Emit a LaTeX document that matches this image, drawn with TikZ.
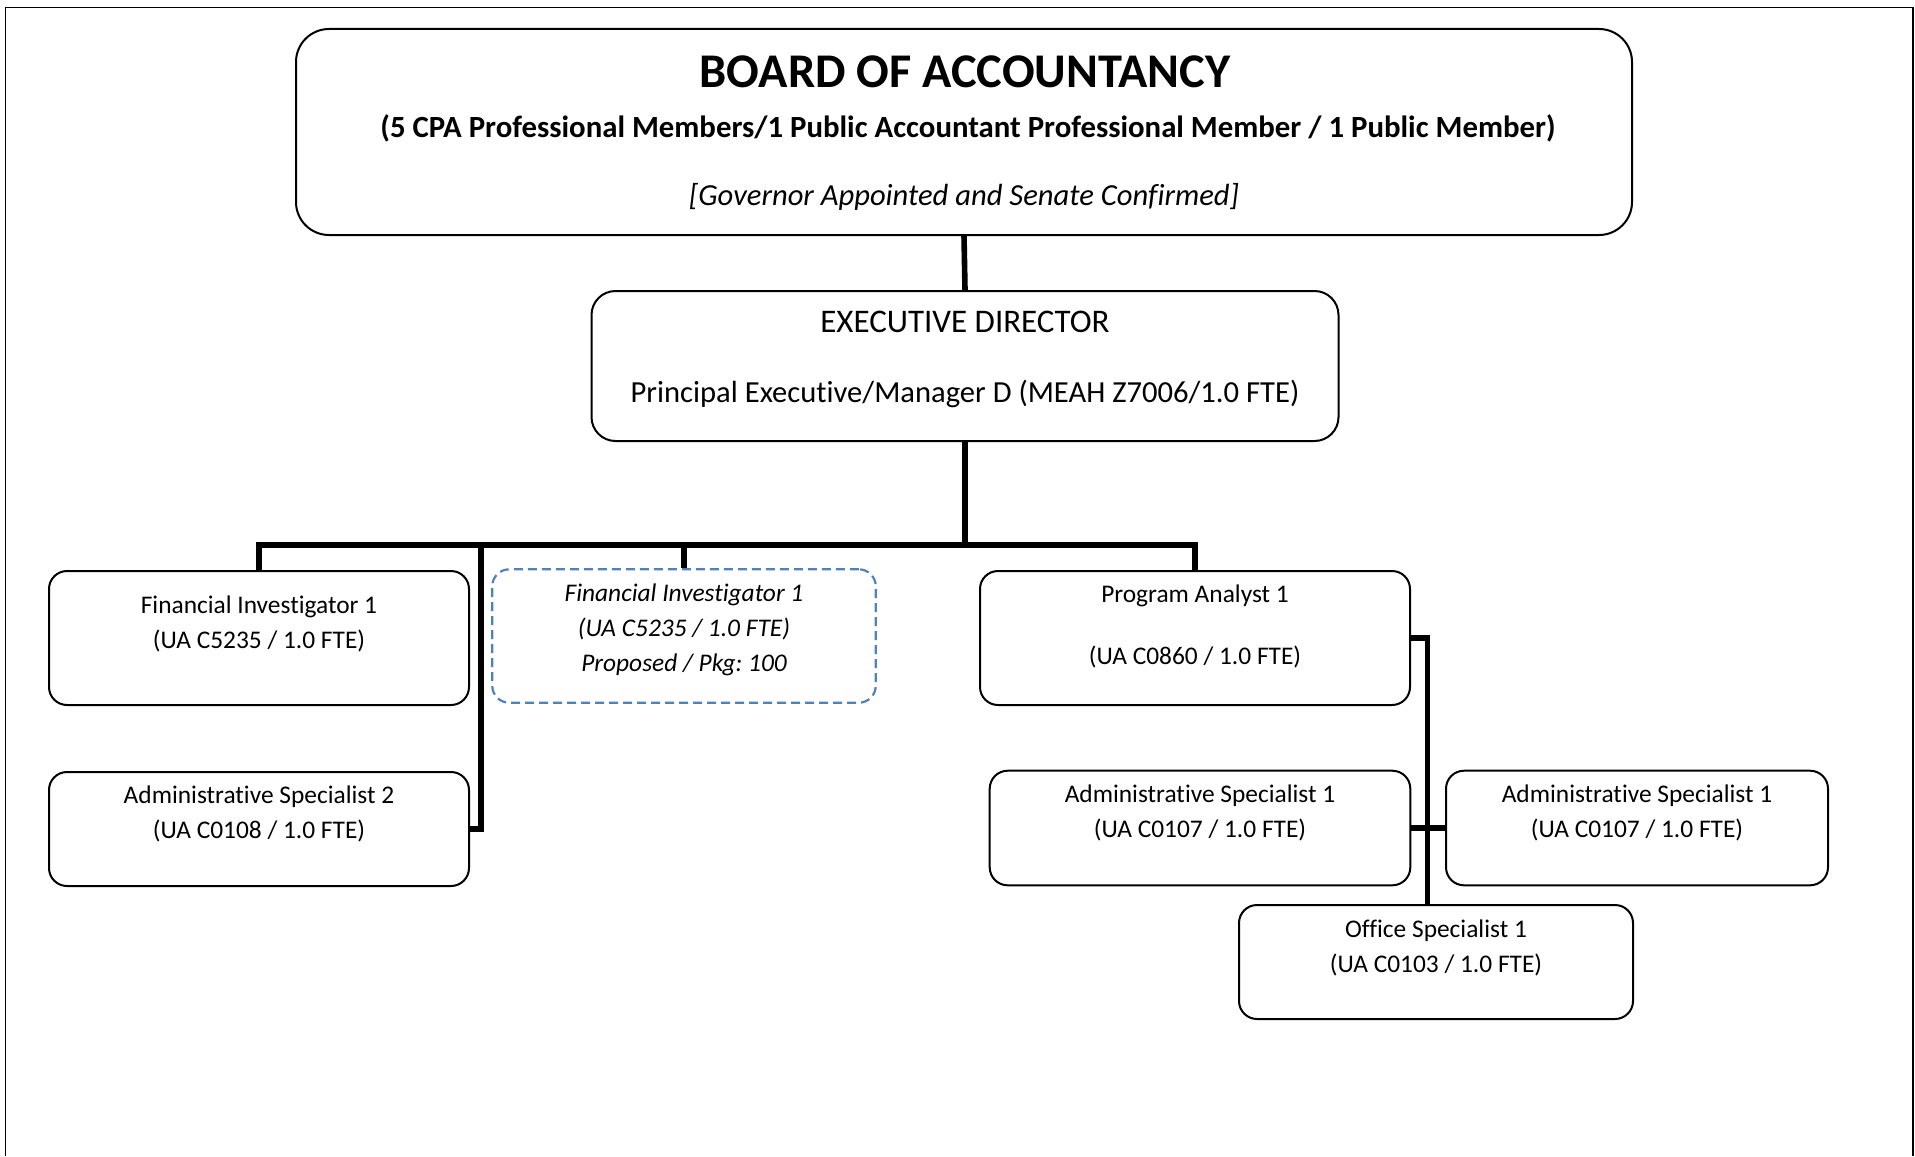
\documentclass[tikz,border=0pt]{standalone}
\usepackage{fontspec}
\setmainfont{Carlito}[Ligatures=CommonOff]
\definecolor{dashblue}{HTML}{4F81BD}
\frenchspacing
\begin{document}
\begin{tikzpicture}[x=0.5pt, y=-0.5pt,
  box/.style={draw=black, line width=1pt, rounded corners=9pt, inner sep=0pt},
  propbox/.style={draw=dashblue, line width=1.1pt, dash pattern=on 4.5pt off 2.5pt, rounded corners=8.5pt, inner sep=0pt},
  txt/.style={inner sep=0pt, align=center, font=\fontsize{12.7}{17.5}\selectfont},
  bigtxt/.style={inner sep=0pt, font=\fontsize{15.3}{18}\selectfont},
  conn/.style={draw=black, line width=2.8pt}]
\useasboundingbox (0,0) rectangle (1915,1156);
\draw[line width=0.8pt] (5.5,1156) |- (1913,7.5) -- (1913,1156);

\node[box, rounded corners=16.5pt, minimum width=668pt, minimum height=103pt] (board) at (964,132) {};
\node[bigtxt, font=\fontsize{24.2}{28}\selectfont\bfseries] (boardtitle) at (965,72) {BOARD OF ACCOUNTANCY};
\node[bigtxt, font=\fontsize{15.4}{18}\selectfont\bfseries] (boardmembers) at (968,128) {(5 CPA Professional Members/1 Public Accountant Professional Member / 1 Public Member)};
\node[bigtxt, font=\fontsize{15.3}{18}\selectfont\itshape] (boardnote) at (964,197) {[Governor Appointed and Senate Confirmed]};

\node[box, rounded corners=12pt, minimum width=373.5pt, minimum height=75pt] (ed) at (965,366) {};
\node[bigtxt, font=\fontsize{16.5}{19}\selectfont] (edtitle) at (965,322) {EXECUTIVE DIRECTOR};
\node[bigtxt] (edclass) at (965,394) {Principal Executive/Manager D (MEAH Z7006/1.0 FTE)};

\node[box, minimum width=210pt, minimum height=67pt] (fi) at (259,638) {};
\node[txt] (fitext) at (259,624) {Financial Investigator 1\\(UA C5235 / 1.0 FTE)};

\node[propbox, minimum width=191.75pt, minimum height=66.7pt] (fip) at (684,636) {};
\node[txt, font=\fontsize{12.7}{17.6}\selectfont\itshape] (fiptext) at (684,630) {Financial Investigator 1\\(UA C5235 / 1.0 FTE)\\Proposed / Pkg: 100};

\node[box, minimum width=215pt, minimum height=67pt] (pa) at (1195,638) {};
\node[txt] (patext) at (1195,626) {Program Analyst 1\\[13.5pt](UA C0860 / 1.0 FTE)};

\node[box, minimum width=210pt, minimum height=57pt] (as2) at (259,829) {};
\node[txt] (as2text) at (259,814) {Administrative Specialist 2\\(UA C0108 / 1.0 FTE)};

\node[box, minimum width=210.3pt, minimum height=57.3pt] (asa) at (1200,828) {};
\node[txt] (asatext) at (1200,813) {Administrative Specialist 1\\(UA C0107 / 1.0 FTE)};

\node[box, minimum width=191pt, minimum height=57.3pt] (asb) at (1637,828) {};
\node[txt] (asbtext) at (1637,813) {Administrative Specialist 1\\(UA C0107 / 1.0 FTE)};

\node[box, minimum width=197pt, minimum height=57pt] (os) at (1436,962) {};
\node[txt] (ostext) at (1436,948) {Office Specialist 1\\(UA C0103 / 1.0 FTE)};

\coordinate (bus) at (965,545);
\coordinate (spine) at (481,545);
\path[conn] (board.south) -- (ed.north);
\path[conn] (ed.south) -- (bus);
\path[conn] (fi.north) -- (fi.north |- bus) -- (pa.north |- bus) -- (pa.north);
\path[conn] (fip.north |- bus) -- (fip.north);
\path[conn] (spine) |- (as2.east);
\path[conn] (pa.east) -| ([xshift=-4.2pt]os.north);
\path[conn] (asa.east) -- (asb.west);
\end{tikzpicture}
\end{document}
